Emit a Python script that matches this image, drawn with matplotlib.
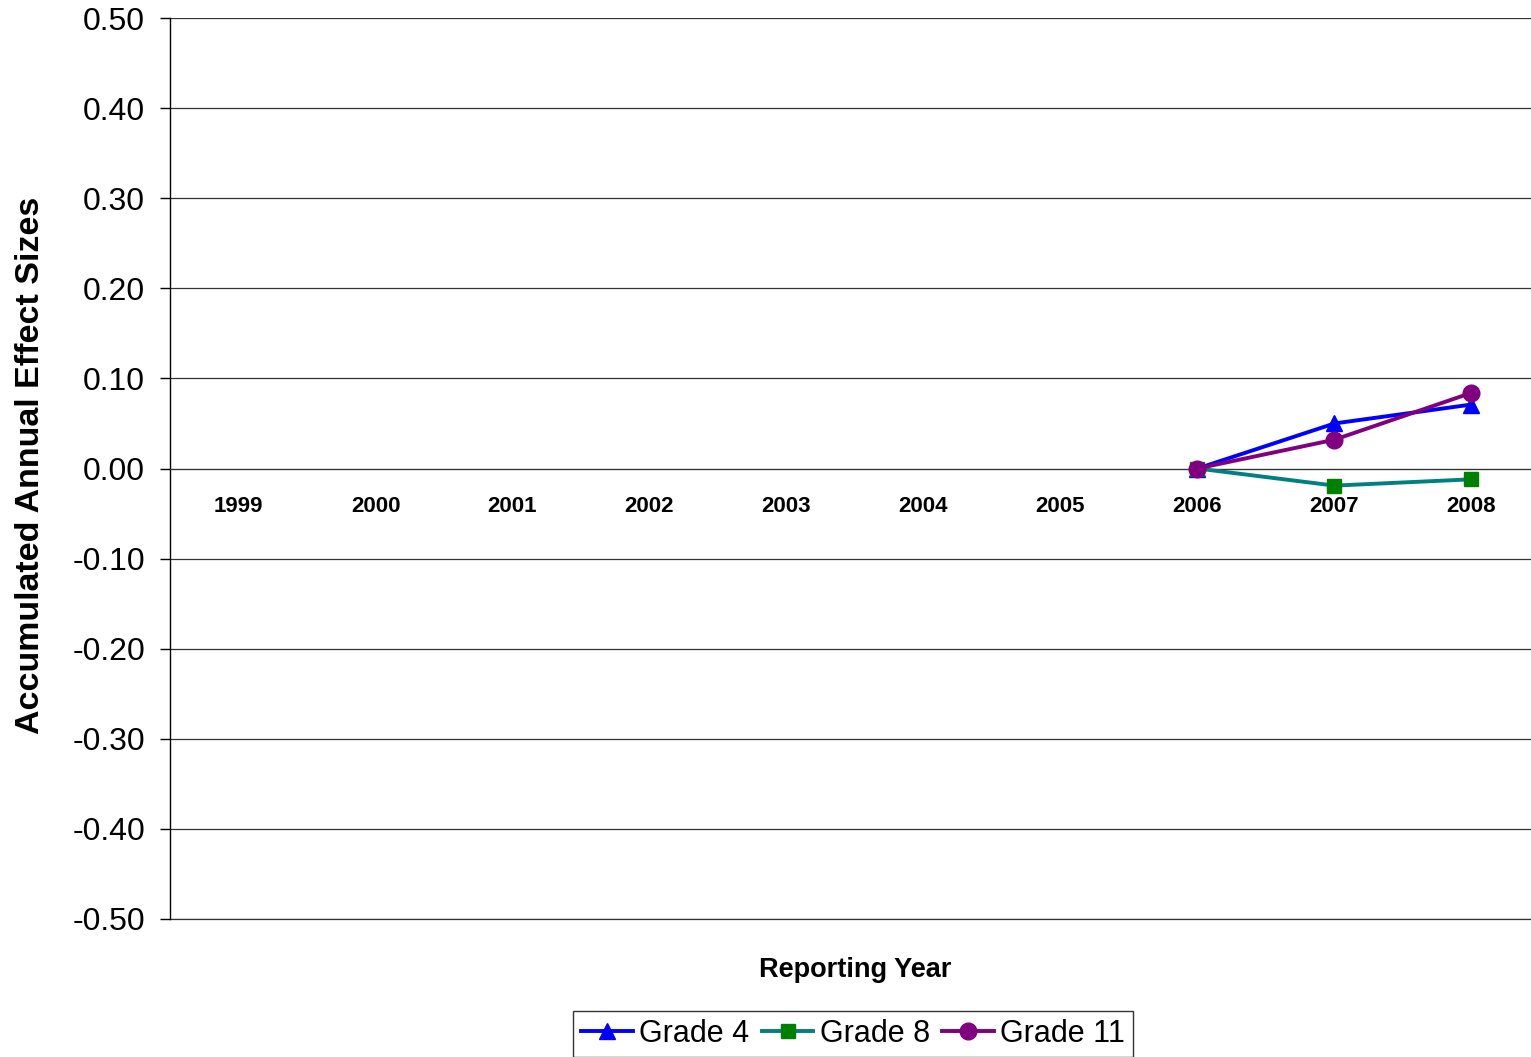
import numpy as np
import matplotlib.pyplot as plt

plt.rcParams['font.family'] = ['Liberation Sans', 'DejaVu Sans']

years = ['1999', '2000', '2001', '2002', '2003', '2004', '2005', '2006', '2007', '2008']
grade4 = [np.nan] * 7 + [0.000, 0.050, 0.071]
grade8 = [np.nan] * 7 + [0.000, -0.019, -0.012]
grade11 = [np.nan] * 7 + [0.000, 0.032, 0.084]
yticks = [-0.5, -0.4, -0.3, -0.2, -0.1, 0.0, 0.1, 0.2, 0.3, 0.4, 0.5]

W, H = 1531, 1057
fig = plt.figure(figsize=(W / 100, H / 100), dpi=100)
ax = fig.add_axes([170 / W, 1 - 919 / H, 1370 / W, 901 / H])

x = np.arange(len(years))
ax.plot(x, grade4, color='#0000ff', lw=2.8, marker='^', ms=12, mfc='#0000ff', mec='#0000ff', label='Grade 4', zorder=3)
ax.plot(x, grade8, color='#008080', lw=2.8, marker='s', ms=10.5, mfc='#008000', mec='#008000', label='Grade 8', zorder=3)
ax.plot(x, grade11, color='#800080', lw=2.8, marker='o', ms=12, mfc='#800080', mec='#800080', label='Grade 11', zorder=4)

# move the category axis to zero first (this resets the tick settings)
ax.spines['bottom'].set_position(('data', 0))
ax.spines['bottom'].set_color('#333333')
ax.spines['top'].set_visible(False)
ax.spines['right'].set_visible(False)
ax.spines['left'].set_linewidth(1)

ax.set_xlim(-0.5, len(years) - 0.5)
ax.set_ylim(-0.5, 0.5)
ax.set_yticks(yticks)
ax.set_yticklabels(['%.2f' % v for v in yticks], fontsize=23)
ax.yaxis.grid(True, color='#333333', lw=0.9)
ax.axhline(-0.5, color='#333333', lw=0.9, clip_on=False)
ax.set_axisbelow(True)
ax.tick_params(axis='y', direction='out', length=7, width=1, pad=11)

ax.set_xticks(x)
ax.set_xticklabels(years, fontsize=16, fontweight='bold')
ax.tick_params(axis='x', length=0, pad=20)

fig.text(855 / W, 1 - 970 / H, 'Reporting Year', ha='center', va='center', fontsize=19.5, fontweight='bold')
fig.text(31 / W, 1 - 465 / H, 'Accumulated Annual Effect Sizes', ha='center', va='center',
         rotation=90, fontsize=24.5, fontweight='bold')

leg = fig.legend(loc='center', bbox_to_anchor=(853 / W, 1 - 1034 / H), ncol=3, fontsize=22,
                 frameon=True, fancybox=False, edgecolor='black', handlelength=1.7,
                 handletextpad=0.2, columnspacing=0.4, borderpad=0.25)
leg.get_frame().set_linewidth(1)

fig.savefig('out.png', dpi=100)
